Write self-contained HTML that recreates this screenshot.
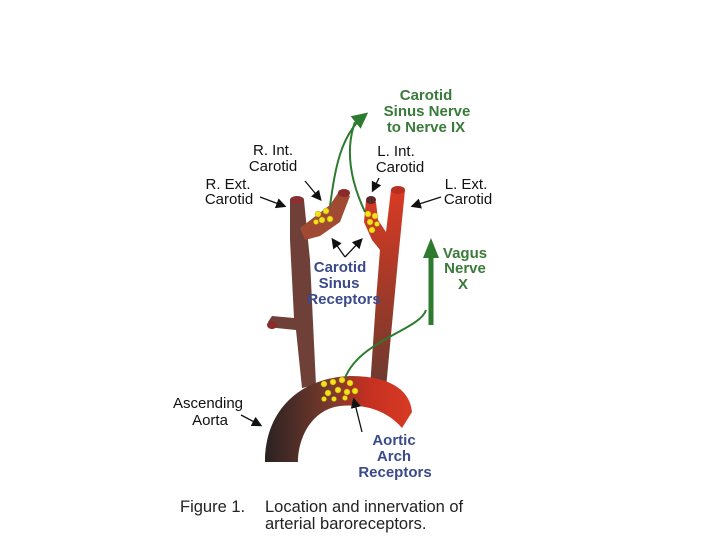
<!DOCTYPE html>
<html><head><meta charset="utf-8"><style>
body{margin:0;background:#fff;}
svg{display:block;font-family:"Liberation Sans",sans-serif;}
</style></head><body>
<svg width="720" height="540" viewBox="0 0 720 540">
<defs>
<linearGradient id="arch" x1="0" y1="0" x2="1" y2="0">
<stop offset="0" stop-color="#2a2222"/><stop offset="0.45" stop-color="#7a3a2c"/><stop offset="0.7" stop-color="#c43020"/><stop offset="1" stop-color="#d83a24"/>
</linearGradient>
<linearGradient id="lc" x1="0" y1="1" x2="0" y2="0">
<stop offset="0" stop-color="#6a3a30"/><stop offset="0.5" stop-color="#a33a28"/><stop offset="1" stop-color="#d83a24"/>
</linearGradient>
<marker id="ah" markerWidth="8" markerHeight="8" refX="6" refY="4" orient="auto"><path d="M0,0 L8,4 L0,8 z" fill="#111"/></marker>
<marker id="gh" markerWidth="8" markerHeight="8" refX="6" refY="4" orient="auto"><path d="M0,0 L8,4 L0,8 z" fill="#2e7a2e"/></marker>
</defs>
<path d="M290,200 L304,200 L310,260 L316,385 L302,388 L296,330 L276,328 L268,322 L272,316 L294,318 L290,240 z" fill="#6e4038"/>
<ellipse cx="297" cy="200" rx="7" ry="4" fill="#8a3030"/>
<path d="M300,228 L330,205 L340,190 L350,196 L340,222 L320,236 L305,240 z" fill="#a04a34"/>
<ellipse cx="344" cy="193" rx="6" ry="4" fill="#8a2a2a"/>
<ellipse cx="272" cy="325" rx="5" ry="4" fill="#8a2a2a"/>
<path d="M391,190 L405,190 L398,260 L386,388 L370,388 L376,300 L380,250 L372,240 L364,222 L366,200 L376,202 L378,220 L386,232 z" fill="url(#lc)"/>
<ellipse cx="398" cy="190" rx="7" ry="4" fill="#b83020"/>
<ellipse cx="371" cy="200" rx="5" ry="4" fill="#5a2a2a"/>
<path d="M265,462 C265,410 300,378 350,376 C390,376 410,390 412,412 L402,428 C385,408 360,404 340,406 C310,410 298,440 298,462 z" fill="url(#arch)"/>
<g fill="#f2e21a" stroke="#b8a010" stroke-width="0.5">
<circle cx="318" cy="214" r="3"/><circle cx="326" cy="211" r="3"/><circle cx="322" cy="220" r="3"/><circle cx="330" cy="219" r="3"/><circle cx="316" cy="222" r="2.5"/>
<circle cx="368" cy="214" r="3"/><circle cx="375" cy="216" r="3"/><circle cx="370" cy="222" r="3"/><circle cx="377" cy="224" r="2.5"/><circle cx="372" cy="230" r="3"/>
<circle cx="324" cy="384" r="3"/><circle cx="333" cy="382" r="3"/><circle cx="342" cy="380" r="3"/><circle cx="350" cy="383" r="3"/><circle cx="328" cy="393" r="3"/><circle cx="338" cy="390" r="3"/><circle cx="347" cy="392" r="3"/><circle cx="355" cy="391" r="3"/><circle cx="334" cy="399" r="2.5"/><circle cx="345" cy="398" r="2.5"/><circle cx="324" cy="399" r="2.5"/>
</g>
<g fill="none" stroke="#2e7a2e" stroke-width="2">
<path d="M330,206 C335,170 340,135 365,115" marker-end="url(#gh)"/>
<path d="M365,212 C350,180 345,150 355,122"/>
<path d="M345,378 C360,340 420,330 426,310"/>
</g>
<path d="M431,325 L431,255" stroke="#2e7a2e" stroke-width="5"/>
<path d="M423,258 L431,238 L439,258 z" fill="#2e7a2e"/>
<g stroke="#111" stroke-width="1.3" fill="none">
<path d="M260,197 L284,206" marker-end="url(#ah)"/>
<path d="M305,181 L320,199" marker-end="url(#ah)"/>
<path d="M379,178 L373,190" marker-end="url(#ah)"/>
<path d="M441,197 L413,206" marker-end="url(#ah)"/>
<path d="M345,257 L333,240" marker-end="url(#ah)"/>
<path d="M345,257 L361,240" marker-end="url(#ah)"/>
<path d="M241,415 L260,425" marker-end="url(#ah)"/>
<path d="M362,432 L354,400" marker-end="url(#ah)"/>
</g>
<g font-size="15" fill="#111" text-anchor="middle">
<text x="273" y="155">R. Int.</text><text x="273" y="171">Carotid</text>
<text x="228" y="189">R. Ext.</text><text x="229" y="204">Carotid</text>
<text x="396" y="156">L. Int.</text><text x="400" y="172">Carotid</text>
<text x="466" y="189">L. Ext.</text><text x="468" y="204">Carotid</text>
<text x="208" y="408">Ascending</text><text x="210" y="425">Aorta</text>
</g>
<g font-size="15" font-weight="bold" fill="#3a7a3a" text-anchor="middle">
<text x="426" y="100">Carotid</text><text x="427" y="116">Sinus Nerve</text><text x="426" y="132">to Nerve IX</text>
<text x="465" y="258">Vagus</text><text x="465" y="273">Nerve</text><text x="463" y="289">X</text>
</g>
<g font-size="15" font-weight="bold" fill="#3a4a8a" text-anchor="middle">
<text x="340" y="272">Carotid</text><text x="339" y="288">Sinus</text><text x="344" y="304">Receptors</text>
<text x="394" y="445">Aortic</text><text x="394" y="461">Arch</text><text x="395" y="477">Receptors</text>
</g>
<g font-size="16.5" fill="#222">
<text x="180" y="512">Figure 1.</text>
<text x="265" y="512">Location and innervation of</text>
<text x="265" y="529">arterial baroreceptors.</text>
</g>
</svg>
</body></html>
